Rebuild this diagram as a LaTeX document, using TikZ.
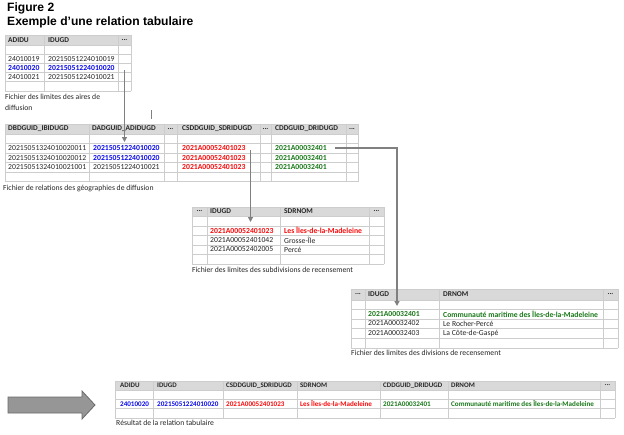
\documentclass[tikz,border=0pt]{standalone}
\usepackage{fontspec}
\setmainfont{Carlito}
\newfontfamily\titlefont{Liberation Sans}
\usetikzlibrary{arrows.meta}
\definecolor{gridc}{RGB}{205,205,205}
\definecolor{headc}{RGB}{217,217,217}
\definecolor{txt}{RGB}{38,38,38}
\definecolor{blu}{RGB}{10,10,235}
\definecolor{rd}{RGB}{250,10,10}
\definecolor{grn}{RGB}{25,120,25}
\definecolor{conn}{RGB}{128,128,128}
\definecolor{arrf}{RGB}{150,150,150}
\definecolor{arrd}{RGB}{105,105,105}
\def\fs{7.7}
\def\hfs{7.4}
\tikzset{
  cell/.style={anchor=west, inner sep=0pt, text=txt, font=\fontsize{\fs}{9}\selectfont},
  hd/.style={cell, font=\fontsize{\hfs}{9}\selectfont\bfseries},
  dots/.style={hd, anchor=center},
  bl/.style={cell, text=blu, font=\fontsize{\fs}{9}\selectfont\bfseries},
  rr/.style={cell, text=rd, font=\fontsize{\fs}{9}\selectfont\bfseries},
  gg/.style={cell, text=grn, font=\fontsize{\fs}{9}\selectfont\bfseries},
  capt/.style={cell, align=left, font=\fontsize{7.7}{10.5}\selectfont},
  ttl/.style={anchor=west, inner sep=0pt, font=\titlefont\bfseries\fontsize{12.1}{14}\selectfont},
  connector/.style={draw=conn, line width=1.3pt, -{Triangle[length=5pt,width=5pt]}},
  gridline/.style={draw=gridc, line width=0.6pt}
}
\newcommand\mktable[7]{%
  \fill[headc] (#1,#3) rectangle (#2,#4);
  \foreach \xx in {#6} \draw[gridline] (\xx,#3) -- (\xx,#5);
  \foreach \yy in {#7} \draw[gridline] (#1,\yy) -- (#2,\yy);
}
\newcommand\cel[5]{\node[#1] (#2) at (#3,#4) {#5};}
\begin{document}
\begin{tikzpicture}[x=1pt,y=-1pt]
\useasboundingbox (0,0) rectangle (624,434);
\fill[white] (0,0) rectangle (624,434);

% title
\node[ttl] (title1) at (7,8.5) {Figure 2};
\node[ttl] (title2) at (7,22.5) {Exemple d’une relation tabulaire};

% ---------- table 1
\mktable{5}{131}{35}{45}{91}{5,44,118,131}{35,45,54,63.5,72.5,81.5,91}
\cel{hd}{a1}{8}{40}{ADIDU}
\cel{hd}{a2}{48}{40}{IDUGD}
\cel{dots}{a3}{124.5}{40}{...}
\cel{cell}{a11}{8}{59}{24010019}
\cel{cell}{a12}{48}{59}{20215051224010019}
\cel{bl}{a21}{8}{68}{24010020}
\cel{bl}{a22}{48}{68}{20215051224010020}
\cel{cell}{a31}{8}{77}{24010021}
\cel{cell}{a32}{48}{77}{20215051224010021}
\node[capt, anchor=north west] (acap) at (5,94) {Fichier des limites des aires de\\diffusion};

% ---------- table 2
\mktable{5}{358}{124}{134}{181.5}{5,89,164,177,260,271,346,358}{124,134,143.5,153,162.5,172,181.5}
\cel{hd}{b1}{8}{129}{DBDGUID\_IBIDUGD}
\cel{hd}{b2}{92}{129}{DADGUID\_ADIDUGD}
\cel{dots}{b3}{170.5}{129}{...}
\cel{hd}{b4}{182}{129}{CSDDGUID\_SDRIDUGD}
\cel{dots}{b5}{265.5}{129}{...}
\cel{hd}{b6}{275}{129}{CDDGUID\_DRIDUGD}
\cel{dots}{b7}{352}{129}{...}
\cel{cell}{b11}{8}{148.3}{20215051324010020011}
\cel{bl}{b12}{93}{148.3}{20215051224010020}
\cel{rr}{b13}{182}{148.3}{2021A00052401023}
\cel{gg}{b14}{275}{148.3}{2021A00032401}
\cel{cell}{b21}{8}{157.8}{20215051324010020012}
\cel{bl}{b22}{93}{157.8}{20215051224010020}
\cel{rr}{b23}{182}{157.8}{2021A00052401023}
\cel{gg}{b24}{275}{157.8}{2021A00032401}
\cel{cell}{b31}{8}{167.3}{20215051324010021001}
\cel{cell}{b32}{93}{167.3}{20215051224010021}
\cel{rr}{b33}{182}{167.3}{2021A00052401023}
\cel{gg}{b34}{275}{167.3}{2021A00032401}
\cel{capt}{bcap}{3}{188.5}{Fichier de relations des géographies de diffusion}

% ---------- table 3
\mktable{192}{384}{207}{216}{264}{192,207,280,369,384}{207,216,226,235,245,254,264}
\cel{dots}{c1}{199.5}{211.5}{...}
\cel{hd}{c2}{210}{211.5}{IDUGD}
\cel{hd}{c3}{284}{211.5}{SDRNOM}
\cel{dots}{c4}{376.5}{211.5}{...}
\cel{rr}{c11}{210}{230.5}{2021A00052401023}
\cel{rr}{c12}{284}{230.5}{Les Îles-de-la-Madeleine}
\cel{cell}{c21}{210}{240}{2021A00052401042}
\cel{cell}{c22}{284}{240}{Grosse-Île}
\cel{cell}{c31}{210}{249.5}{2021A00052402005}
\cel{cell}{c32}{284}{249.5}{Percé}
\cel{capt}{ccap}{192}{269.5}{Fichier des limites des subdivisions de recensement}

% ---------- table 4
\mktable{351}{618}{289}{300}{348}{351,365,439,603,618}{289,300,309,319,328,338,348}
\cel{dots}{d1}{358}{294.5}{...}
\cel{hd}{d2}{368}{294.5}{IDUGD}
\cel{hd}{d3}{443}{294.5}{DRNOM}
\cel{dots}{d4}{610.5}{294.5}{...}
\cel{gg}{d11}{368}{314}{2021A00032401}
\cel{gg}{d12}{443}{314}{Communauté maritime des Îles-de-la-Madeleine}
\cel{cell}{d21}{368}{323.5}{2021A00032402}
\cel{cell}{d22}{443}{323.5}{Le Rocher-Percé}
\cel{cell}{d31}{368}{333}{2021A00032403}
\cel{cell}{d32}{443}{333}{La Côte-de-Gaspé}
\cel{capt}{dcap}{351}{352.5}{Fichier des limites des divisions de recensement}

% ---------- table 5
\begin{scope}
\def\fs{7.1}
\def\hfs{6.95}
\mktable{115}{615}{381}{390}{418}{115,153,223,297,380,448,600,615}{381,390,399.5,408.5,418}
\cel{hd}{e1}{120}{385.5}{ADIDU}
\cel{hd}{e2}{157}{385.5}{IDUGD}
\cel{hd}{e3}{226}{385.5}{CSDDGUID\_SDRIDUGD}
\cel{hd}{e4}{300}{385.5}{SDRNOM}
\cel{hd}{e5}{383}{385.5}{CDDGUID\_DRIDUGD}
\cel{hd}{e6}{451}{385.5}{DRNOM}
\cel{dots}{e7}{607.5}{385.5}{...}
\cel{bl}{e11}{120}{404}{24010020}
\cel{bl}{e12}{157}{404}{20215051224010020}
\cel{rr}{e13}{226}{404}{2021A00052401023}
\cel{rr}{e14}{300}{404}{Les Îles-de-la-Madeleine}
\cel{gg}{e15}{383}{404}{2021A00032401}
\cel{gg}{e16}{451}{404}{Communauté maritime des Îles-de-la-Madeleine}
\end{scope}
\cel{capt}{ecap}{116}{422.5}{Résultat de la relation tabulaire}

% ---------- big arrow
\draw[fill=arrf, draw=arrd, line width=0.8pt] (8,397) -- (82,397) -- (82,391) -- (95,405) -- (82,419) -- (82,413) -- (8,413) -- cycle;

% ---------- connectors
\coordinate (k1s) at (124.5,70);
\coordinate (k1e) at (124.5,142);
\coordinate (k2s) at (250.5,150);
\coordinate (k2e) at (250.5,222);
\coordinate (k3s) at (335,148);
\coordinate (k3m) at (397,148);
\coordinate (k3e) at (397,306);
\coordinate (tick1) at (151.5,110);
\coordinate (tick2) at (151.5,119);
\draw[connector] (k1s) -- (k1e);
\draw[connector] (k2s) -- (k2e);
\draw[connector] (k3s) -- (k3m) -- (k3e);
\draw[draw=conn, line width=1pt] (tick1) -- (tick2);
\end{tikzpicture}
\end{document}
